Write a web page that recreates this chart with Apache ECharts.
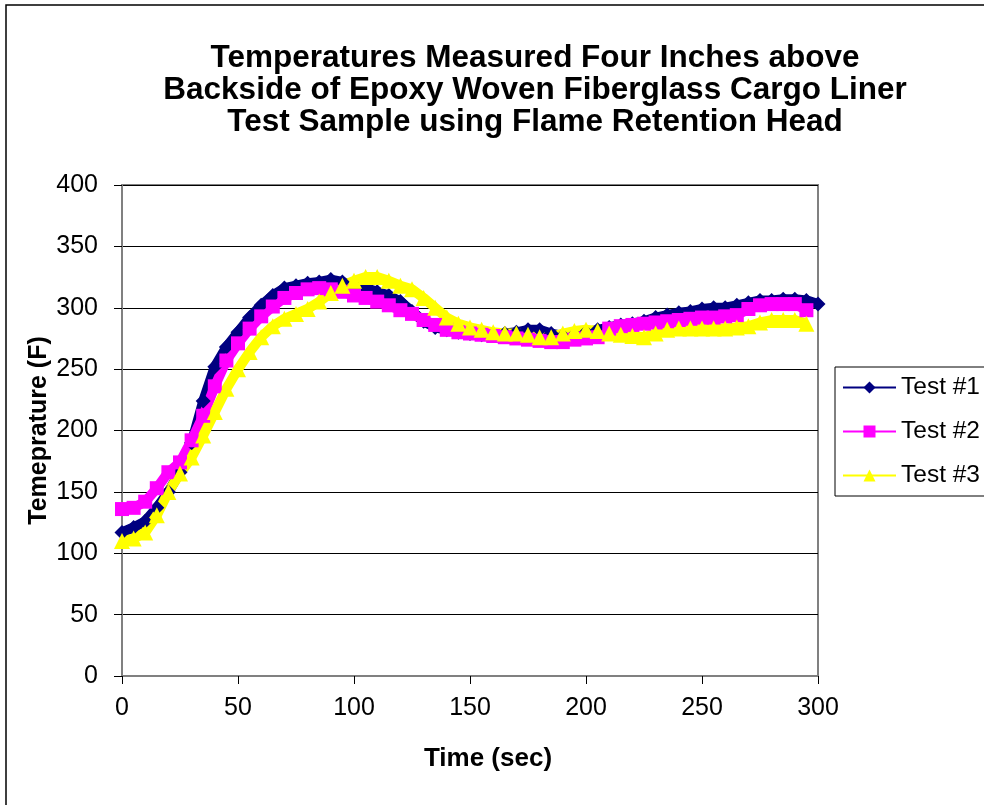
<!DOCTYPE html>
<html>
<head>
<meta charset="utf-8">
<script src="https://cdn.jsdelivr.net/npm/echarts@6/dist/echarts.min.js"></script>
<style>
  html, body { margin: 0; padding: 0; background: #fff; }
  #chart { width: 984px; height: 805px; }
</style>
</head>
<body>
<div id="chart"></div>
<script>
const chart = echarts.init(document.getElementById('chart'))

// time in seconds, one reading every 5 s
const times = [
  0, 5, 10, 15, 20, 25, 30, 35, 40, 45, 50, 55, 60, 65, 70, 75, 80, 85, 90, 95,
  100, 105, 110, 115, 120, 125, 130, 135, 140, 145, 150, 155, 160, 165, 170, 175, 180, 185, 190, 195,
  200, 205, 210, 215, 220, 225, 230, 235, 240, 245, 250, 255, 260, 265, 270, 275, 280, 285, 290, 295,
  300,
]

const test1 = [
  117, 121, 126, 137, 150, 166, 190, 224, 252, 268, 280, 292, 302, 310, 316, 318, 320, 321, 323, 321,
  318, 316, 313, 310, 305, 297, 289, 284, 282, 280, 279, 278, 278, 279, 280, 282, 282, 279, 277, 278,
  280, 282, 284, 286, 287, 289, 292, 294, 296, 297, 299, 300, 300, 302, 304, 306, 306, 307, 307, 306,
  303,
]

const test2 = [
  136, 137, 142, 153, 166, 174, 192, 212, 236, 257, 271, 283, 293, 301, 308, 312, 315, 316, 315, 313,
  310, 308, 305, 302, 298, 295, 290, 286, 282, 280, 279, 278, 277, 276, 275, 274, 273, 272, 272, 274,
  275, 276, 283, 285, 286, 287, 288, 289, 290, 291, 292, 292, 293, 294, 299, 302, 303, 303, 303, 298,
  null,
]

const test3 = [
  110, 112, 117, 131, 150, 165, 178, 196, 215, 234, 250, 264, 276, 285, 291, 295, 299, 305, 312, 318,
  322, 325, 325, 322, 318, 315, 308, 300, 292, 287, 284, 282, 280, 279, 279, 278, 276, 276, 279, 281,
  282, 281, 279, 278, 277, 276, 279, 282, 283, 283, 283, 283, 283, 284, 285, 288, 290, 290, 290, 287,
  null,
]

const seriesNames = ['Test #1', 'Test #2', 'Test #3']
const seriesColors = ['#000080', '#FF00FF', '#FFFF00']
const seriesSymbols = ['diamond', 'rect', 'triangle']
const seriesSizes = [15, 14, 16]

const xTicks = [0, 50, 100, 150, 200, 250, 300]
const yTicks = [0, 50, 100, 150, 200, 250, 300, 350, 400]

const font = 'Arial, "Liberation Sans", sans-serif'

const toPairs = (vals) =>
  times.map((t, i) => (vals[i] == null ? null : [t, vals[i]])).filter((p) => p)

const option = {
  animation: false,
  backgroundColor: '#fff',
  title: {
    text: 'Temperatures Measured Four Inches above\nBackside of Epoxy Woven Fiberglass Cargo Liner\nTest Sample using Flame Retention Head',
    left: 530,
    top: 37,
    textAlign: 'center',
    textStyle: {
      fontFamily: font,
      fontSize: 31.5,
      fontWeight: 'bold',
      lineHeight: 32,
      color: '#000',
    },
  },
  graphic: [
    {
      type: 'rect',
      silent: true,
      shape: { x: 6, y: 5, width: 1200, height: 1200 },
      style: { fill: 'none', stroke: '#000', lineWidth: 1.5 },
    },
  ],
  legend: {
    orient: 'vertical',
    left: 835,
    top: 367,
    padding: [8, 40, 8, 7],
    itemWidth: 53,
    itemHeight: 15,
    itemGap: 19,
    borderColor: '#000',
    borderWidth: 1,
    textStyle: { fontFamily: font, fontSize: 24.5, color: '#000' },
    data: seriesNames.map((name) => ({ name, itemStyle: {}, lineStyle: { width: 2 } })),
  },
  grid: {
    left: 122,
    top: 185,
    width: 696,
    height: 491,
    show: true,
    borderColor: '#808080',
    borderWidth: 2,
    containLabel: false,
  },
  xAxis: {
    type: 'value',
    min: xTicks[0],
    max: xTicks[xTicks.length - 1],
    interval: 50,
    name: 'Time (sec)',
    nameLocation: 'middle',
    nameGap: 70,
    nameTextStyle: {
      fontFamily: font,
      fontSize: 26,
      fontWeight: 'bold',
      color: '#000',
      padding: [0, 0, 0, 36],
    },
    axisLine: { onZero: false, lineStyle: { color: '#808080', width: 2 } },
    axisTick: { show: true, inside: false, length: 8, lineStyle: { color: '#000', width: 1 } },
    axisLabel: {
      margin: 20,
      fontFamily: font,
      fontSize: 25,
      color: '#000',
      formatter: (v) => (xTicks.includes(v) ? String(v) : ''),
    },
    splitLine: { show: false },
  },
  yAxis: {
    type: 'value',
    min: yTicks[0],
    max: yTicks[yTicks.length - 1],
    interval: 50,
    name: 'Temeprature (F)',
    nameLocation: 'middle',
    nameGap: 70,
    nameMoveOverlap: false,
    nameRotate: 90,
    nameTextStyle: {
      fontFamily: font,
      fontSize: 25,
      fontWeight: 'bold',
      color: '#000',
    },
    axisLine: { show: true, lineStyle: { color: '#808080', width: 2 } },
    axisTick: { show: true, inside: false, length: 8, lineStyle: { color: '#000', width: 1 } },
    axisLabel: {
      margin: 24,
      fontFamily: font,
      fontSize: 25,
      color: '#000',
      formatter: (v) => (yTicks.includes(v) ? String(v) : ''),
    },
    splitLine: { show: true, lineStyle: { color: '#000', width: 1 } },
  },
  series: [test1, test2, test3].map((vals, i) => ({
    name: seriesNames[i],
    type: 'line',
    data: toPairs(vals),
    symbol: seriesSymbols[i],
    symbolSize: seriesSizes[i],
    showAllSymbol: true,
    color: seriesColors[i],
    itemStyle: { color: seriesColors[i], borderWidth: 0 },
    lineStyle: { color: seriesColors[i], width: 10 },
    clip: false,
  })),
}

chart.setOption(option)
</script>
</body>
</html>
